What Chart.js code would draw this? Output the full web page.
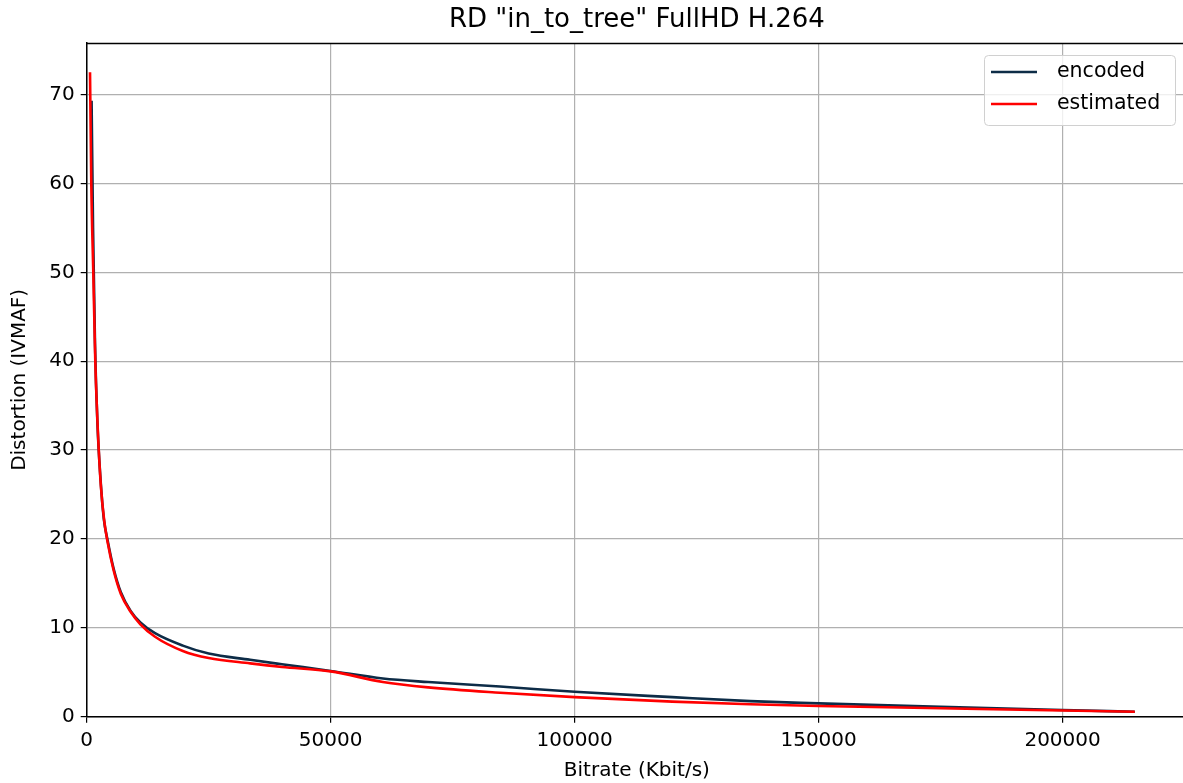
<!DOCTYPE html>
<html>
<head>
<meta charset="utf-8">
<script src="https://cdn.jsdelivr.net/npm/chart.js@4.4.0/dist/chart.umd.min.js"></script>
<style>
  html, body { margin: 0; padding: 0; background: #fff; overflow: hidden; }
  #wrap { width: 1190px; height: 783px; position: relative; }
</style>
</head>
<body>
<div id="wrap"><canvas id="myChart"></canvas></div>
<script>
// values
const encodedRate = [1000, 1300, 1700, 2200, 2800, 3500, 4300, 5500, 7000, 9000, 11000, 14000, 19700, 25000, 33500, 40000, 50000, 60700, 70000, 84700, 100000, 120000, 136000, 150000, 175000, 200000, 214800];
const encodedDist = [69.3, 55, 42, 33, 27, 22.3, 19.8, 16.7, 14, 11.9, 10.6, 9.4, 8.0, 7.1, 6.4, 5.9, 5.15, 4.3, 3.9, 3.4, 2.8, 2.2, 1.75, 1.5, 1.1, 0.75, 0.56];

const estimatedRate = [680, 940, 1350, 1760, 2300, 2900, 3600, 4300, 5500, 7000, 9000, 11000, 14000, 19700, 25000, 33500, 40000, 50000, 60700, 70000, 84700, 100000, 120000, 136000, 150000, 175000, 200000, 214800];
const estimatedDist = [72.5, 60, 50, 40, 32, 26, 22, 19.6, 16.5, 13.8, 11.8, 10.4, 9.0, 7.4, 6.6, 6.0, 5.6, 5.1, 3.9, 3.3, 2.7, 2.2, 1.7, 1.4, 1.2, 0.95, 0.7, 0.56];

const xTicks = [0, 50000, 100000, 150000, 200000];
const yTicks = [0, 10, 20, 30, 40, 50, 60, 70];

const TITLE = 'RD "in_to_tree" FullHD H.264';
const FONT = 'DejaVu Sans';

function toPoints(xs, ys) {
  return xs.map((x, i) => ({ x: x, y: ys[i] }));
}

// title centred over the axes, top/right spines, matplotlib style legend
const frame = {
  id: 'frame',
  afterDatasetsDraw(chart) {
    const c = chart.ctx, a = chart.chartArea;
    c.save();
    c.strokeStyle = '#000';
    c.lineWidth = 1.5;
    c.beginPath();
    c.moveTo(a.left, a.top + 0.5);
    c.lineTo(a.right, a.top + 0.5);
    c.moveTo(a.right - 0.5, a.top);
    c.lineTo(a.right - 0.5, a.bottom);
    c.stroke();

    c.fillStyle = '#000';
    c.font = '26px "' + FONT + '"';
    c.textAlign = 'center';
    c.textBaseline = 'middle';
    c.fillText(TITLE, (a.left + a.right) / 2, 20);

    // legend
    const bx = 984, by = 55, bw = 191, bh = 70, r = 4;
    c.fillStyle = 'rgba(255,255,255,0.8)';
    c.strokeStyle = '#d0d0d0';
    c.lineWidth = 1;
    c.beginPath();
    c.roundRect(bx + 0.5, by + 0.5, bw, bh, r);
    c.fill();
    c.stroke();
    c.font = '20.5px "' + FONT + '"';
    c.textAlign = 'left';
    chart.data.datasets.forEach((ds, i) => {
      const y = 72 + i * 32;
      c.strokeStyle = ds.borderColor;
      c.lineWidth = 2.6;
      c.beginPath();
      c.moveTo(991, y);
      c.lineTo(1037, y);
      c.stroke();
      c.fillStyle = '#000';
      c.fillText(ds.label, 1057, y);
    });
    c.restore();
  }
};

new Chart(document.getElementById('myChart'), {
  type: 'line',
  data: {
    datasets: [{
      label: 'encoded',
      data: toPoints(encodedRate, encodedDist),
      borderColor: '#0d2c47',
      borderWidth: 2.6,
      pointRadius: 0,
      cubicInterpolationMode: 'monotone',
      order: 2
    }, {
      label: 'estimated',
      data: toPoints(estimatedRate, estimatedDist),
      borderColor: '#ff0000',
      borderWidth: 2.6,
      pointRadius: 0,
      cubicInterpolationMode: 'monotone',
      order: 1
    }]
  },
  options: {
    responsive: true,
    maintainAspectRatio: false,
    animation: false,
    layout: { padding: { left: 0, right: 3, top: 43, bottom: 0 } },
    plugins: {
      legend: { display: false },
      tooltip: { enabled: false },
      title: { display: false }
    },
    scales: {
      x: {
        type: 'linear',
        min: 0,
        max: 225500,
        afterBuildTicks(s) { s.ticks = xTicks.map(v => ({ value: v })); },
        afterFit(s) { s.height = 66.3; },
        ticks: {
          color: '#000',
          font: { family: FONT, size: 20 },
          padding: 6,
          maxRotation: 0,
          callback: v => String(v)
        },
        grid: { color: '#b0b0b0', lineWidth: 1.2, tickColor: '#000', tickLength: 6 },
        border: { display: true, color: '#000', width: 1.5 },
        title: {
          display: true,
          text: 'Bitrate (Kbit/s)',
          color: '#000',
          font: { family: FONT, size: 20 },
          padding: { top: 0, bottom: 0 }
        }
      },
      y: {
        type: 'linear',
        min: 0,
        max: 75.8,
        afterBuildTicks(s) { s.ticks = yTicks.map(v => ({ value: v })); },
        afterFit(s) { s.width = 86.7; },
        ticks: {
          color: '#000',
          font: { family: FONT, size: 20 },
          padding: 6,
          callback: v => String(v)
        },
        grid: { color: '#b0b0b0', lineWidth: 1.2, tickColor: '#000', tickLength: 6 },
        border: { display: true, color: '#000', width: 1.5 },
        title: {
          display: true,
          text: 'Distortion (IVMAF)',
          color: '#000',
          font: { family: FONT, size: 20 },
          padding: { top: 8, bottom: 0 }
        }
      }
    }
  },
  plugins: [frame]
});
</script>
</body>
</html>
